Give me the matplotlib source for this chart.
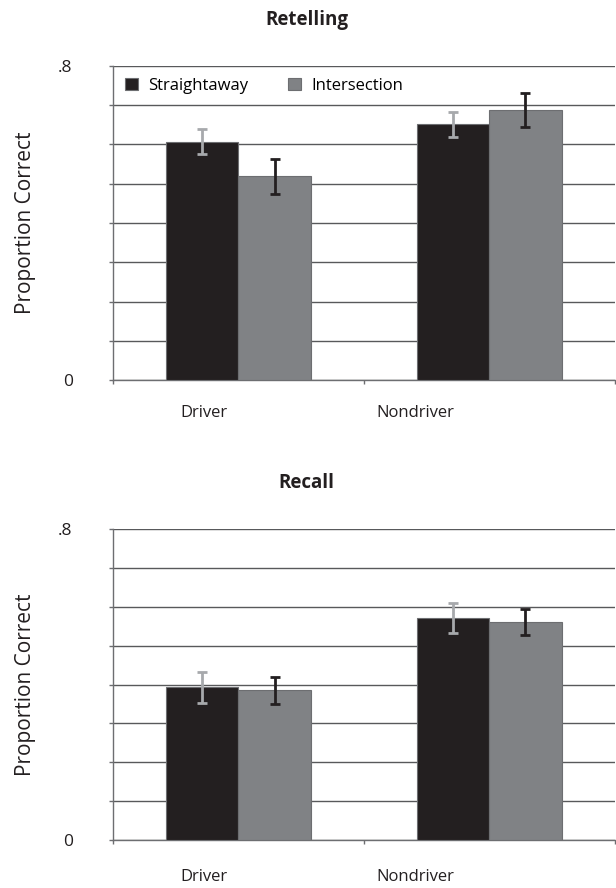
import numpy as np
import matplotlib
matplotlib.use("Agg")
import matplotlib.pyplot as plt
from matplotlib.patches import Patch

plt.rcParams["font.family"] = ["Open Sans", "DejaVu Sans"]

# data
groups = ["Driver", "Nondriver"]
series = ["Straightaway", "Intersection"]

retell_straight = [0.607, 0.652]
retell_straight_err = [0.032, 0.032]
retell_inter = [0.519, 0.688]
retell_inter_err = [0.045, 0.044]

recall_straight = [0.393, 0.571]
recall_straight_err = [0.039, 0.038]
recall_inter = [0.385, 0.561]
recall_inter_err = [0.034, 0.033]

yticks = np.arange(0, 0.81, 0.1)

BLACK = "#231f20"
GRAY = "#808285"
LIGHT = "#a7a9ac"
LINE = "#6d6e71"


def draw_panel(ax, straight, s_err, inter, i_err, label_y, legend=False):
    x = np.arange(len(groups))
    w = 0.288
    ax.bar(x - w / 2, straight, w, color=BLACK, edgecolor=LINE, linewidth=0.8, zorder=3)
    ax.bar(x + w / 2, inter, w, color=GRAY, edgecolor=LINE, linewidth=0.8, zorder=3)
    ax.errorbar(x - w / 2, straight, yerr=s_err, fmt="none", ecolor=LIGHT,
                elinewidth=2, capsize=3.5, capthick=2, zorder=4)
    ax.errorbar(x + w / 2, inter, yerr=i_err, fmt="none", ecolor=BLACK,
                elinewidth=2, capsize=3.5, capthick=2, zorder=4)

    ax.set_xlim(-0.5, 1.5)
    ax.set_ylim(0, 0.8)
    ax.set_yticks(yticks)
    ax.set_yticklabels(["0"] + [""] * 7 + [".8"])
    ax.set_xticks([-0.5, 0.5, 1.5])
    ax.set_xticklabels([])
    ax.yaxis.grid(True, color="#58595b", linewidth=1.0, zorder=0)
    ax.set_axisbelow(True)

    for s in ["top", "right"]:
        ax.spines[s].set_visible(False)
    for s in ["left", "bottom"]:
        ax.spines[s].set_color(LINE)
        ax.spines[s].set_linewidth(1.0)
    ax.tick_params(axis="both", direction="out", length=3, width=1, color=LINE)
    ax.tick_params(axis="y", pad=26, labelsize=12.5, labelcolor="#231f20")

    # category labels, positioned as in the original
    ax.text(0.181, label_y, groups[0], transform=ax.transAxes, ha="center",
            va="center", fontsize=12, color="#231f20")
    ax.text(0.602, label_y, groups[1], transform=ax.transAxes, ha="center",
            va="center", fontsize=12, color="#231f20")

    if legend:
        handles = [Patch(facecolor=BLACK, edgecolor=LINE, linewidth=0.8),
                   Patch(facecolor=GRAY, edgecolor=LINE, linewidth=0.8)]
        ax.legend(handles, series, loc="upper left", ncol=2, frameon=False,
                  fontsize=12, handlelength=0.8, handleheight=0.8,
                  handletextpad=0.6, columnspacing=2.4, borderaxespad=0.3,
                  bbox_to_anchor=(0.0, 1.0))


fig = plt.figure(figsize=(6.16, 8.88), dpi=100)
ax1 = fig.add_axes([0.1834, 0.572, 0.8146, 0.3537])
ax2 = fig.add_axes([0.1834, 0.054, 0.8146, 0.350])

draw_panel(ax1, retell_straight, retell_straight_err, retell_inter, retell_inter_err,
           label_y=-0.105, legend=True)
draw_panel(ax2, recall_straight, recall_straight_err, recall_inter, recall_inter_err,
           label_y=-0.119)

fig.text(0.498, 0.9775, "Retelling", ha="center", va="center",
         fontsize=13.5, fontweight="bold", color="#231f20")
fig.text(0.498, 0.456, "Recall", ha="center", va="center",
         fontsize=13.5, fontweight="bold", color="#231f20")

for ax in (ax1, ax2):
    pos = ax.get_position()
    fig.text(26 / 616, (pos.y0 + pos.y1) / 2, "Proportion Correct", rotation=90,
             ha="center", va="center", fontsize=15, color="#231f20")

fig.savefig("out.png", dpi=100)
